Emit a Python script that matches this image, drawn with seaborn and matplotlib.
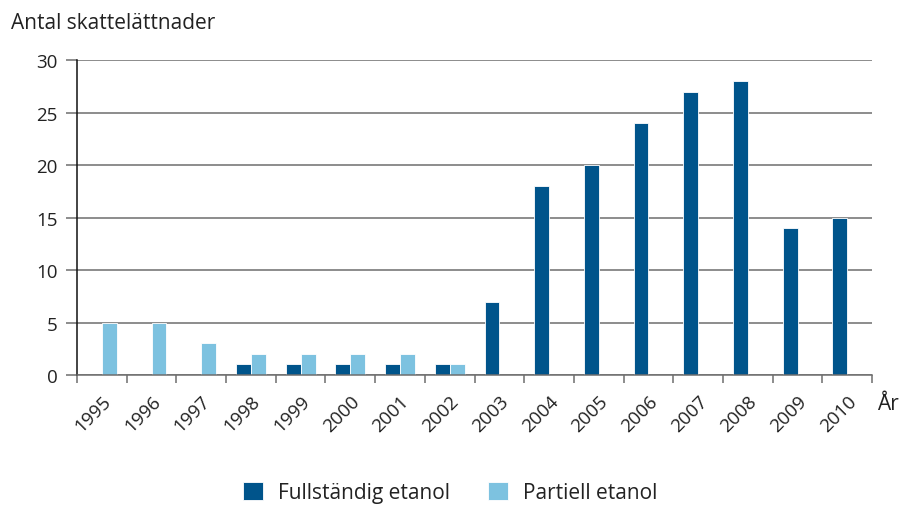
import matplotlib
matplotlib.use("Agg")
import matplotlib.pyplot as plt
import seaborn as sns
import pandas as pd
import numpy as np

years = ["1995", "1996", "1997", "1998", "1999", "2000", "2001", "2002",
         "2003", "2004", "2005", "2006", "2007", "2008", "2009", "2010"]
fullstandig = [0, 0, 0, 1, 1, 1, 1, 1, 7, 18, 20, 24, 27, 28, 14, 15]
partiell = [5, 5, 3, 2, 2, 2, 2, 1, 0, 0, 0, 0, 0, 0, 0, 0]
series_names = ["Fullständig etanol", "Partiell etanol"]
colors = ["#00548B", "#7DC2E0"]

df = pd.DataFrame({
    "År": years * 2,
    "Antal": [v if v > 0 else np.nan for v in fullstandig] + [v if v > 0 else np.nan for v in partiell],
    "Typ": [series_names[0]] * len(years) + [series_names[1]] * len(years),
})

sns.set_theme(style="white")
plt.rcParams["font.family"] = ["Open Sans", "DejaVu Sans"]

fig = plt.figure(figsize=(9, 5.06), dpi=100)
ax = fig.add_axes([0.0856, 0.257, 0.8834, 0.622])

sns.barplot(data=df, x="År", y="Antal", hue="Typ", hue_order=series_names,
            palette=colors, width=0.6, dodge=True, saturation=1, ax=ax,
            legend=True, edgecolor="white", linewidth=0.6)

ax.set_ylim(0, 30)
ax.set_xlim(-0.5, len(years) - 0.5)
ax.set_yticks([0, 5, 10, 15, 20, 25, 30])
ax.set_yticklabels(["0", "5", "10", "15", "20", "25", "30"], fontsize=13.5, color="#222222")
ax.yaxis.grid(True, color="#6e6e6e", linewidth=1.1)
ax.set_axisbelow(True)
ax.tick_params(axis="y", length=8, width=1.1, color="#6e6e6e", pad=6, left=True)

ax.set_xticks(np.arange(-0.5, len(years), 1.0))
ax.set_xticklabels([])
ax.set_xticks(np.arange(len(years)), minor=True)
ax.set_xticklabels(years, minor=True, rotation=45, ha="right",
                   rotation_mode="anchor", fontsize=13.5, color="#222222")
ax.tick_params(axis="x", which="major", length=6, width=1.1, color="#6e6e6e", bottom=True)
ax.tick_params(axis="x", which="minor", length=0, pad=12)

for s in ["top", "right"]:
    ax.spines[s].set_visible(False)
ax.spines["left"].set_color("#111111")
ax.spines["left"].set_linewidth(1.1)
ax.spines["bottom"].set_color("#6e6e6e")
ax.spines["bottom"].set_linewidth(1.1)

ax.set_xlabel("")
ax.set_ylabel("")
fig.text(0.012, 0.953, "Antal skattelättnader", fontsize=15, color="#222222", ha="left", va="center")
fig.text(0.975, 0.2, "År", fontsize=15, color="#222222", ha="left", va="center")

handles, labels = ax.get_legend_handles_labels()
ax.get_legend().remove()
fig.legend(handles, labels, loc="center", bbox_to_anchor=(0.5, 0.025), ncol=2, frameon=False,
           fontsize=15, handlelength=1.0, handleheight=1.0, columnspacing=1.8,
           handletextpad=0.7, labelcolor="#222222")

fig.savefig("out.png", dpi=100)
